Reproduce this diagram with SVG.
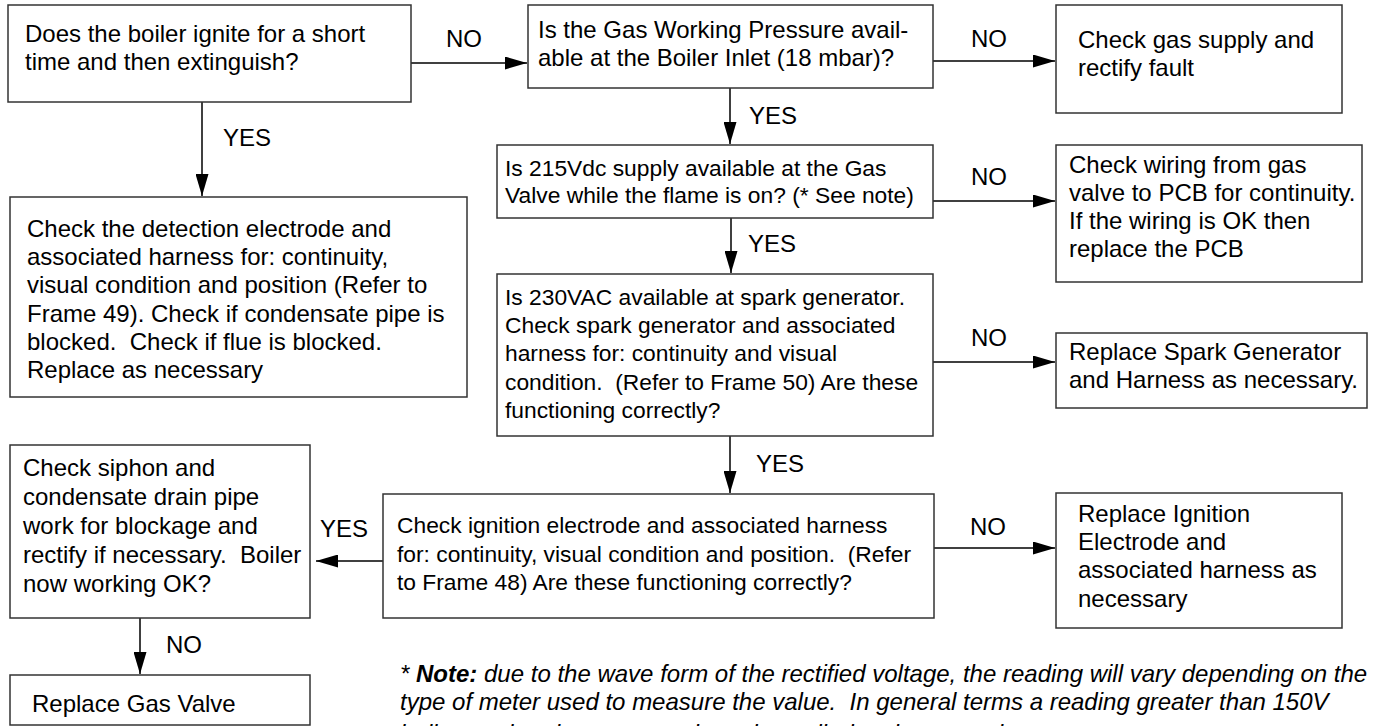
<svg xmlns="http://www.w3.org/2000/svg" width="1375" height="726" viewBox="0 0 1375 726">
<defs>
<style>
.box{fill:#fff;stroke:#333;stroke-width:1.5}
.t{font-family:"Liberation Sans",Arial,sans-serif;font-size:24px;fill:#000}
.s{font-family:"Liberation Sans",Arial,sans-serif;font-size:22.8px;fill:#000}
.n{font-family:"Liberation Sans",Arial,sans-serif;font-size:24px;font-style:italic;fill:#000}
.c{fill:none;stroke:#000;stroke-width:1.5}
</style>
<marker id="ah" markerUnits="userSpaceOnUse" markerWidth="22" markerHeight="13" refX="22" refY="6.5" orient="auto">
<path d="M0,0 L22,6.5 L0,13 z" fill="#000"/>
</marker>
</defs>
<rect width="1375" height="726" fill="#fff"/>
<g id="connectors">
<line class="c" x1="411" y1="63" x2="527" y2="63" marker-end="url(#ah)"/>
<line class="c" x1="933" y1="61" x2="1055" y2="61" marker-end="url(#ah)"/>
<line class="c" x1="202" y1="102" x2="202" y2="196" marker-end="url(#ah)"/>
<line class="c" x1="730" y1="88" x2="730" y2="144" marker-end="url(#ah)"/>
<line class="c" x1="933" y1="201" x2="1055" y2="201" marker-end="url(#ah)"/>
<line class="c" x1="731" y1="218" x2="731" y2="273" marker-end="url(#ah)"/>
<line class="c" x1="933" y1="362" x2="1055" y2="362" marker-end="url(#ah)"/>
<line class="c" x1="730" y1="436" x2="730" y2="493" marker-end="url(#ah)"/>
<line class="c" x1="934" y1="548" x2="1055" y2="548" marker-end="url(#ah)"/>
<line class="c" x1="383" y1="561" x2="316" y2="561" marker-end="url(#ah)"/>
<line class="c" x1="140" y1="618" x2="140" y2="674" marker-end="url(#ah)"/>
<text class="t" x="446" y="47">NO</text>
<text class="t" x="971" y="47">NO</text>
<text class="t" x="223" y="146">YES</text>
<text class="t" x="749" y="124">YES</text>
<text class="t" x="971" y="185">NO</text>
<text class="t" x="748" y="252">YES</text>
<text class="t" x="971" y="346">NO</text>
<text class="t" x="756" y="472">YES</text>
<text class="t" x="970" y="535">NO</text>
<text class="t" x="320" y="537">YES</text>
<text class="t" x="166" y="653">NO</text>
</g>
<g id="nodeA">
<rect class="box" x="8" y="5" width="403" height="97"/>
<text class="t" x="25" y="42">Does the boiler ignite for a short</text>
<text class="t" x="25" y="70">time and then extinguish?</text>
</g>
<g id="nodeB">
<rect class="box" x="528" y="5" width="405" height="83"/>
<text class="t" x="538" y="38">Is the Gas Working Pressure avail-</text>
<text class="t" x="538" y="66">able at the Boiler Inlet (18 mbar)?</text>
</g>
<g id="nodeC">
<rect class="box" x="1056" y="5" width="286" height="108"/>
<text class="t" x="1078" y="48">Check gas supply and</text>
<text class="t" x="1078" y="76">rectify fault</text>
</g>
<g id="nodeD">
<rect class="box" x="10" y="197" width="457" height="200"/>
<text class="t" x="27" y="237">Check the detection electrode and</text>
<text class="t" x="27" y="265">associated harness for: continuity,</text>
<text class="t" x="27" y="293">visual condition and position (Refer to</text>
<text class="t" x="27" y="322" xml:space="preserve">Frame 49). Check if condensate pipe is</text>
<text class="t" x="27" y="350" xml:space="preserve">blocked.  Check if flue is blocked.</text>
<text class="t" x="27" y="378">Replace as necessary</text>
</g>
<g id="nodeE">
<rect class="box" x="497" y="145" width="436" height="73"/>
<text class="s" x="505" y="176">Is 215Vdc supply available at the Gas</text>
<text class="s" x="505" y="203">Valve while the flame is on? (* See note)</text>
</g>
<g id="nodeF">
<rect class="box" x="1056" y="145" width="306" height="137"/>
<text class="t" x="1069" y="173">Check wiring from gas</text>
<text class="t" x="1069" y="201">valve to PCB for continuity.</text>
<text class="t" x="1069" y="229">If the wiring is OK then</text>
<text class="t" x="1069" y="257">replace the PCB</text>
</g>
<g id="nodeG">
<rect class="box" x="497" y="274" width="436" height="162"/>
<text class="s" x="505" y="305">Is 230VAC available at spark generator.</text>
<text class="s" x="505" y="333">Check spark generator and associated</text>
<text class="s" x="505" y="361">harness for: continuity and visual</text>
<text class="s" x="505" y="390" xml:space="preserve">condition.  (Refer to Frame 50) Are these</text>
<text class="s" x="505" y="418">functioning correctly?</text>
</g>
<g id="nodeH">
<rect class="box" x="1056" y="333" width="311" height="75"/>
<text class="t" x="1069" y="360">Replace Spark Generator</text>
<text class="t" x="1069" y="388">and Harness as necessary.</text>
</g>
<g id="nodeI">
<rect class="box" x="383" y="494" width="551" height="124"/>
<text class="s" x="397" y="533">Check ignition electrode and associated harness</text>
<text class="s" x="397" y="562" xml:space="preserve">for: continuity, visual condition and position.  (Refer</text>
<text class="s" x="397" y="590">to Frame 48) Are these functioning correctly?</text>
</g>
<g id="nodeJ">
<rect class="box" x="1056" y="493" width="286" height="135"/>
<text class="t" x="1078" y="522">Replace Ignition</text>
<text class="t" x="1078" y="550">Electrode and</text>
<text class="t" x="1078" y="578">associated harness as</text>
<text class="t" x="1078" y="607">necessary</text>
</g>
<g id="nodeK">
<rect class="box" x="10" y="445" width="300" height="173"/>
<text class="t" x="23" y="476">Check siphon and</text>
<text class="t" x="23" y="505">condensate drain pipe</text>
<text class="t" x="23" y="534">work for blockage and</text>
<text class="t" x="23" y="563" xml:space="preserve">rectify if necessary.  Boiler</text>
<text class="t" x="23" y="592">now working OK?</text>
</g>
<g id="nodeL">
<rect class="box" x="10" y="675" width="300" height="50"/>
<text class="t" x="32" y="712">Replace Gas Valve</text>
</g>
<g id="note">
<text class="n" x="400" y="682" xml:space="preserve">* <tspan font-weight="bold">Note:</tspan> due to the wave form of the rectified voltage, the reading will vary depending on the</text>
<text class="n" x="400" y="710" xml:space="preserve">type of meter used to measure the value.  In general terms a reading greater than 150V</text>
<text class="n" x="400" y="742">indicates that the correct voltage is applied to the gas valve.</text>
</g>
</svg>
